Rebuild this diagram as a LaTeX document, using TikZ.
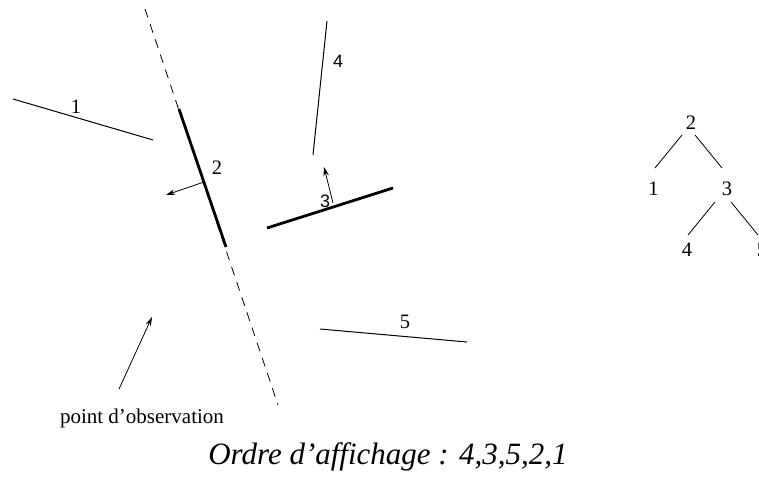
\documentclass[tikz,border=0pt]{standalone}
\usepackage{fontspec}
\setmainfont{Liberation Serif}
\newfontfamily\lsans{Liberation Sans}
\usetikzlibrary{arrows.meta}
\begin{document}
\begin{tikzpicture}[x=1pt,y=-1pt,
  seg/.style={line width=1pt},
  thickseg/.style={line width=2.8pt},
  arr/.style={line width=0.8pt,-{Stealth[length=9pt,width=5.5pt]}},
  lbl/.style={inner sep=0pt,font=\fontsize{20.5}{20.5}\selectfont},
  slbl/.style={inner sep=0pt,font=\lsans\fontsize{18}{18}\selectfont},
  tedge/.style={line width=0.8pt}]
\clip (0,0) rectangle (759,476);
\useasboundingbox (0,0) rectangle (759,476);
% dashed plane
\coordinate (d1) at (145,9);
\coordinate (d2) at (278,405);
\draw[line width=0.8pt,dash pattern=on 9pt off 7pt] (d1) -- (d2);
% segment 2 (thick)
\coordinate (s2a) at (179,109);
\coordinate (s2b) at (226,247);
\draw[thickseg] (s2a) -- (s2b);
\node[lbl] (l2) at (217,168) {2};
\coordinate (n2a) at (204,182);
\coordinate (n2b) at (166,195);
\draw[arr] (n2a) -- (n2b);
% segment 1
\coordinate (s1a) at (13,99);
\coordinate (s1b) at (153,140);
\draw[seg] (s1a) -- (s1b);
\node[lbl] (l1) at (76,107) {1};
% segment 3 (thick)
\coordinate (s3a) at (267,228);
\coordinate (s3b) at (393,188);
\draw[thickseg] (s3a) -- (s3b);
\node[slbl] (l3) at (325,201) {3};
\coordinate (n3a) at (333,203);
\coordinate (n3b) at (324,167);
\draw[arr] (n3a) -- (n3b);
% segment 4
\coordinate (s4a) at (327,21);
\coordinate (s4b) at (313,155);
\draw[seg] (s4a) -- (s4b);
\node[slbl] (l4) at (338,61) {4};
% segment 5
\coordinate (s5a) at (320,329);
\coordinate (s5b) at (467,342);
\draw[seg] (s5a) -- (s5b);
\node[lbl] (l5) at (405,321.5) {5};
% observation point
\coordinate (oa) at (119,389);
\coordinate (ob) at (152,317);
\draw[arr] (oa) -- (ob);
\node[inner sep=0pt,anchor=base,font=\fontsize{21}{21}\selectfont] (obs) at (142,423) {point d’observation};
% caption
\node[inner sep=0pt,anchor=base,font=\itshape\fontsize{31}{31}\selectfont] (cap) at (388,464) {Ordre d’affichage : 4,3,5,2,1};
% tree
\node[lbl] (t2) at (691,122.5) {2};
\node[lbl] (t1) at (653.5,188.5) {1};
\node[lbl] (t3) at (727,188.5) {3};
\node[lbl] (t4) at (687,249.5) {4};
\node[lbl] (t5) at (762,249.5) {5};
\coordinate (e21a) at (682,135); \coordinate (e21b) at (655,168);
\coordinate (e23a) at (695,135); \coordinate (e23b) at (722,168);
\coordinate (e34a) at (715,202); \coordinate (e34b) at (688,235);
\coordinate (e35a) at (731,202); \coordinate (e35b) at (758,235);
\draw[tedge] (e21a) -- (e21b);
\draw[tedge] (e23a) -- (e23b);
\draw[tedge] (e34a) -- (e34b);
\draw[tedge] (e35a) -- (e35b);
\end{tikzpicture}
\end{document}
